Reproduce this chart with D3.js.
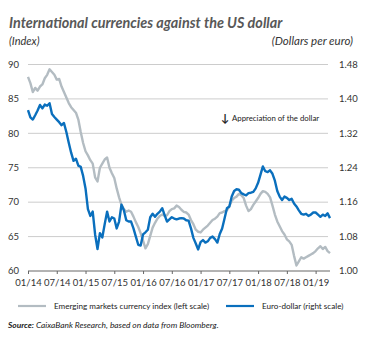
<!DOCTYPE html>
<html><head><meta charset="utf-8">
<script src="https://cdn.jsdelivr.net/npm/d3@7"></script>
<style>
html,body{margin:0;padding:0;background:#fff;}
svg{display:block;font-family:Lato,"Open Sans",sans-serif;}
</style></head>
<body><svg id="c" width="370" height="338"></svg>
<script>
// Half-monthly observations from Jan 2014 (decimal year = 2014 + k/24)
const startYear = 2014;
const stepsPerYear = 24;
const emIndex = [88.2,87.3,86.0,86.6,86.2,86.8,87.1,88.0,88.5,89.3,88.9,88.5,87.8,87.9,86.8,86.0,85.2,84.4,83.8,83.4,83.0,82.0,80.2,78.6,77.4,76.8,76.1,75.6,73.6,73.0,75.0,75.6,76.2,76.5,75.0,74.2,73.5,72.0,70.7,69.6,69.0,68.6,68.8,68.6,67.9,67.1,66.4,65.5,64.4,63.3,63.9,65.1,66.3,67.0,67.6,68.0,68.2,68.0,68.1,68.7,69.0,69.1,69.5,69.3,68.9,68.6,68.5,68.2,67.4,66.8,66.0,65.7,65.6,66.0,66.3,66.6,67.0,67.4,67.6,67.9,68.4,68.5,68.7,68.8,69.4,70.2,70.6,70.8,71.2,71.0,70.6,69.5,68.7,69.0,69.6,70.1,70.6,71.2,71.6,71.5,71.2,70.7,69.5,68.2,67.2,66.5,65.8,65.3,64.6,64.3,63.8,62.2,60.8,61.4,62.0,61.8,62.0,62.2,62.4,62.6,62.9,63.3,63.6,63.2,63.5,62.9,62.6];
const euroDollar = [1.374,1.357,1.352,1.362,1.373,1.386,1.378,1.387,1.384,1.390,1.365,1.358,1.352,1.346,1.339,1.344,1.323,1.298,1.275,1.256,1.261,1.245,1.242,1.221,1.192,1.144,1.128,1.138,1.085,1.051,1.088,1.078,1.109,1.138,1.115,1.125,1.122,1.099,1.115,1.154,1.141,1.118,1.115,1.115,1.099,1.080,1.061,1.059,1.085,1.090,1.096,1.125,1.133,1.126,1.133,1.138,1.146,1.130,1.115,1.120,1.125,1.122,1.120,1.122,1.123,1.122,1.118,1.117,1.099,1.077,1.064,1.050,1.067,1.072,1.066,1.069,1.077,1.080,1.074,1.066,1.086,1.099,1.122,1.146,1.150,1.173,1.186,1.190,1.189,1.181,1.178,1.176,1.181,1.182,1.184,1.192,1.205,1.224,1.243,1.232,1.230,1.234,1.226,1.210,1.186,1.173,1.165,1.173,1.170,1.165,1.168,1.157,1.150,1.141,1.133,1.131,1.133,1.128,1.131,1.136,1.136,1.131,1.126,1.131,1.128,1.134,1.123];
const xTickValues = [2014,2014.5,2015,2015.5,2016,2016.5,2017,2017.5,2018,2018.5,2019];
const xTickLabels = ["01/14","07/14","01/15","07/15","01/16","07/16","01/17","07/17","01/18","07/18","01/19"];
const leftTicks = [60,65,70,75,80,85,90];
const rightTicks = [1.00,1.08,1.16,1.24,1.32,1.40,1.48];
const seriesNames = ["Emerging markets currency index (left scale)","Euro-dollar (right scale)"];
const colors = ["#b3bcc2","#0a6fbd"];

const svg = d3.select("#c");
const x = d3.scaleLinear().domain([2014, 2019.25]).range([28, 330]);
const yL = d3.scaleLinear().domain([60, 90]).range([271, 64.5]);
const yR = d3.scaleLinear().domain([1.00, 1.48]).range([271, 64.5]);

// Title
svg.append("text").attr("x", 9).attr("y", 28)
  .attr("font-size", 14.4).attr("font-weight", "bold").attr("font-style", "italic")
  .attr("fill", "#585858").text("International currencies against the US dollar");
svg.append("text").attr("x", 9).attr("y", 45).attr("font-size", 11).attr("font-style", "italic")
  .attr("fill", "#333").text("(Index)");
svg.append("text").attr("x", 353).attr("y", 45).attr("text-anchor", "end").attr("font-size", 11.5).attr("font-style", "italic")
  .attr("fill", "#333").text("(Dollars per euro)");

// Gridlines
svg.append("g").selectAll("line").data(leftTicks.filter(d => d > 60)).join("line")
  .attr("x1", 28).attr("x2", 328)
  .attr("y1", d => yL(d)).attr("y2", d => yL(d))
  .attr("stroke", "#c6c6c6").attr("stroke-width", 0.9);

// Left axis labels
svg.append("g").selectAll("text").data(leftTicks).join("text")
  .attr("x", 19).attr("y", d => yL(d) + 3.3).attr("text-anchor", "end")
  .attr("font-size", 9.5).attr("fill", "#333").text(d => d);
// Right axis labels
svg.append("g").selectAll("text").data(rightTicks).join("text")
  .attr("x", 339).attr("y", d => yR(d) + 3.3)
  .attr("font-size", 9.5).attr("fill", "#333").text(d => d.toFixed(2));

// Bottom axis
const xAxis = d3.axisBottom(x).tickValues(xTickValues)
  .tickFormat((d, i) => xTickLabels[i]).tickSize(3).tickSizeOuter(0);
const gx = svg.append("g").attr("transform", `translate(0,${yL(60)})`).call(xAxis);
gx.select(".domain").attr("stroke", "#666").attr("d", `M28,0H330`);
gx.selectAll(".tick line").attr("stroke", "#666");
gx.selectAll(".tick text").attr("font-size", 9.5).attr("fill", "#333")
  .attr("font-family", "Lato,'Open Sans',sans-serif").attr("dy", "0.9em");

// Lines
const t = i => startYear + i / stepsPerYear;
const lineL = d3.line().x((d, i) => x(t(i))).y(d => yL(d));
const lineR = d3.line().x((d, i) => x(t(i))).y(d => yR(d));
svg.append("path").datum(emIndex).attr("d", lineL).attr("fill", "none")
  .attr("stroke", colors[0]).attr("stroke-width", 2.4).attr("stroke-linejoin", "round");
svg.append("path").datum(euroDollar).attr("d", lineR).attr("fill", "none")
  .attr("stroke", colors[1]).attr("stroke-width", 2.4).attr("stroke-linejoin", "round");

// Annotation
svg.append("text").attr("x", 225).attr("y", 122).attr("text-anchor", "middle")
  .attr("font-size", 11).attr("font-weight", "bold").attr("fill", "#222").text("↓");
svg.append("text").attr("x", 232).attr("y", 121).attr("font-size", 7.8)
  .attr("fill", "#222").text("Appreciation of the dollar");

// Legend
const leg = [{x1: 18, x2: 46, tx: 54}, {x1: 226, x2: 254, tx: 262}];
leg.forEach((l, i) => {
  svg.append("line").attr("x1", l.x1).attr("x2", l.x2).attr("y1", 306).attr("y2", 306)
    .attr("stroke", colors[i]).attr("stroke-width", 2.2);
  svg.append("text").attr("x", l.tx).attr("y", 309).attr("font-size", 8.1)
    .attr("fill", "#222").text(seriesNames[i]);
});

// Source
const src = svg.append("text").attr("x", 8).attr("y", 328).attr("font-size", 8.4)
  .attr("font-style", "italic").attr("fill", "#222");
src.append("tspan").attr("font-weight", "bold").text("Source: ");
src.append("tspan").text("CaixaBank Research, based on data from Bloomberg.");
</script></body></html>
